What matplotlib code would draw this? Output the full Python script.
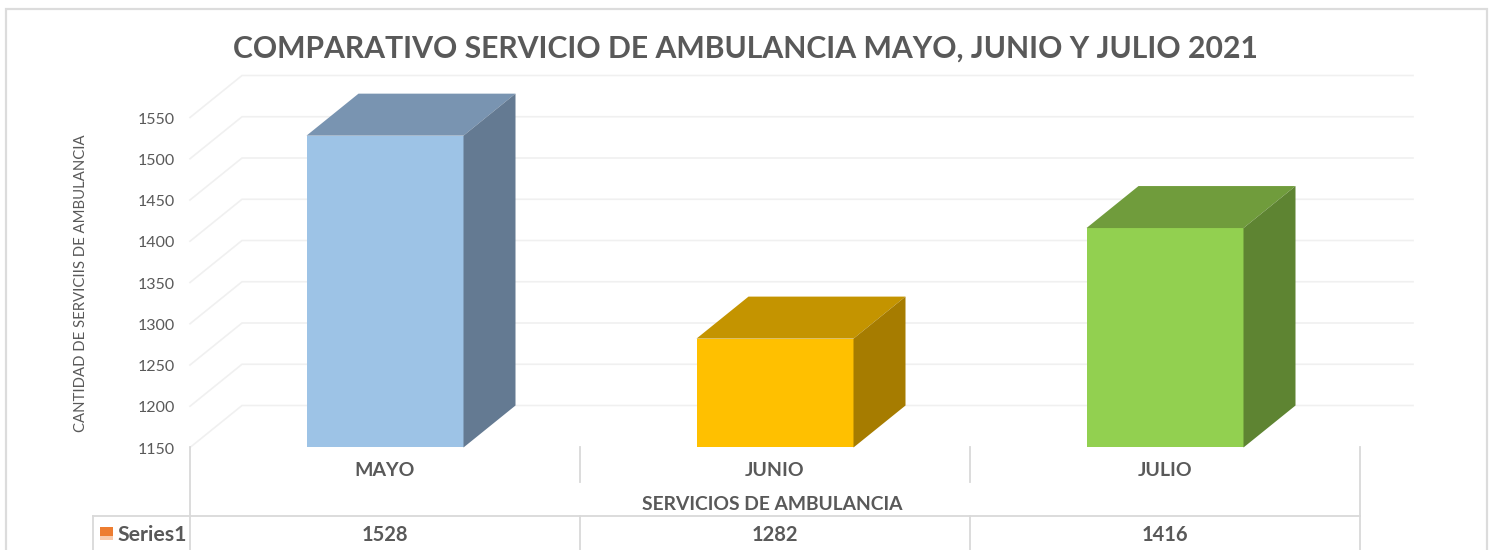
import matplotlib
matplotlib.use('Agg')
from matplotlib import pyplot as plt
from matplotlib.patches import Rectangle

months = ['MAYO', 'JUNIO', 'JULIO']
services = [1528, 1282, 1416]
yticks = [1150, 1200, 1250, 1300, 1350, 1400, 1450, 1500, 1550]
front_colors = ['#9DC3E6', '#FFC000', '#92D050']
top_colors = ['#7994B1', '#C49400', '#709C3C']
side_colors = ['#647A92', '#A67C00', '#5E8432']

W, H = 1492, 550
GREY = '#595959'
GRID = '#F0F0F0'
LINE = '#D9D9D9'
plt.rcParams['font.family'] = ['Lato', 'DejaVu Sans']

# 3d depth in data units (categories, values)
dep_x = 52 / 390
dep_y = 42 / 0.825
bar_w = 157 / 390

fig = plt.figure(figsize=(W / 100, H / 100), dpi=100, facecolor='white')
# axes = front plane of the 3d box
ax = fig.add_axes([190 / W, 1 - 447.5 / H, 1170 / W, 330 / H])
ax.set_xlim(0, 3)
ax.set_ylim(1150, 1550)
ax.axis('off')

# outer chart frame, runs off the bottom of the image
fig.add_artist(Rectangle((6 / W, -0.1), 1481 / W, 1.1 - 9 / H, transform=fig.transFigure,
                         fill=False, edgecolor='#DCDCDC', lw=1.6))

# gridlines, floor to back wall
for v in yticks:
    ax.plot([0, dep_x, 3 + 53 / 390], [v, v + dep_y, v + dep_y], color=GRID, lw=1.2,
            clip_on=False, zorder=1, solid_joinstyle='miter')
    ax.text(-15 / 390, v - 2.5, str(v), ha='right', va='center', fontsize=11.5, color=GREY)

# bars
for i, val in enumerate(services):
    x0 = i + 0.5 - bar_w / 2
    x1 = x0 + bar_w
    ax.fill([x0, x1, x1, x0], [1150, 1150, val, val], color=front_colors[i], lw=0,
            clip_on=False, zorder=3)
    ax.fill([x0, x1, x1 + dep_x, x0 + dep_x], [val, val, val + dep_y, val + dep_y],
            color=top_colors[i], lw=0, clip_on=False, zorder=3)
    ax.fill([x1, x1 + dep_x, x1 + dep_x, x1], [1150, 1150 + dep_y, val + dep_y, val],
            color=side_colors[i], lw=0, clip_on=False, zorder=3)

fig.text(745.5 / W, 1 - 49 / H, 'COMPARATIVO SERVICIO DE AMBULANCIA MAYO, JUNIO Y JULIO 2021',
         ha='center', va='center', fontsize=21.7, fontweight='bold', color=GREY)
fig.text(81 / W, 1 - 283 / H, 'CANTIDAD DE SERVICIIS DE AMBULANCIA', rotation=90,
         ha='center', va='center', fontsize=10.7, color=GREY)
fig.text(772.5 / W, 1 - 505 / H, 'SERVICIOS DE AMBULANCIA', ha='center', va='center',
         fontsize=13.9, fontweight='bold', color=GREY)

# category dividers and the data table under the axis
def hline(y, x0, x1):
    fig.add_artist(plt.Line2D([x0 / W, x1 / W], [1 - y / H, 1 - y / H], color=LINE, lw=1.3))

def vline(x, y0, y1):
    fig.add_artist(plt.Line2D([x / W, x / W], [1 - y0 / H, 1 - y1 / H], color=LINE, lw=1.3))

hline(516, 93, 1360)
vline(93, 516, 550)
vline(190, 447, 550)
vline(1360, 447, 550)
for x in [580, 970]:
    vline(x, 447, 482)
    vline(x, 516, 550)

for i, m in enumerate(months):
    cx = 190 + 390 * (i + 0.5)
    fig.text(cx / W, 1 - 471 / H, m, ha='center', va='center', fontsize=14,
             fontweight='bold', color=GREY)
    fig.text((cx - 0.5) / W, 1 - 535 / H, str(services[i]), ha='center', va='center',
             fontsize=14.5, fontweight='bold', color=GREY)

# legend key fades out at the bottom
fig.add_artist(Rectangle((100 / W, 1 - 536 / H), 13 / W, 9 / H, transform=fig.transFigure,
                         facecolor='#ED7D31', edgecolor='none'))
fig.add_artist(Rectangle((100 / W, 1 - 540 / H), 13 / W, 4 / H, transform=fig.transFigure,
                         facecolor='#F8CBAD', edgecolor='none'))
fig.text(118 / W, 1 - 535 / H, 'Series1', ha='left', va='center', fontsize=15.3,
         fontweight='bold', color=GREY)

plt.savefig('out.png', dpi=100)
